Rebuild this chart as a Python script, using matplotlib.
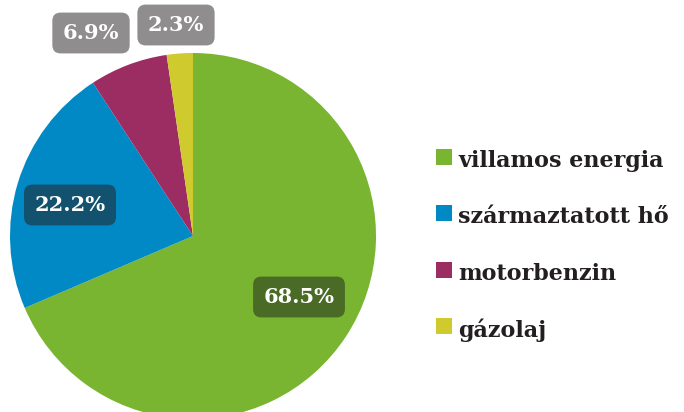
import matplotlib
matplotlib.use("Agg")
import matplotlib.pyplot as plt
from matplotlib.patches import Rectangle

categories = ["villamos energia", "származtatott hő", "motorbenzin", "gázolaj"]
values = [68.5, 22.2, 6.9, 2.3]
labels = ["68.5%", "22.2%", "6.9%", "2.3%"]
colors = ["#79b530", "#0089c4", "#9b2d62", "#cfcb2e"]
box_colors = ["#4a6b26", "#13526e", "#8f8d8e", "#8f8d8e"]

W, H = 684, 412
fig = plt.figure(figsize=(W / 100, H / 100), dpi=100)
ax = fig.add_axes([0, 0, 1, 1])

cx, cy, r = 193, H - 236, 183
ax.pie(values, colors=colors, startangle=90, counterclock=False,
       center=(cx, cy), radius=r, frame=True,
       wedgeprops=dict(linewidth=0))
ax.set_xlim(0, W)
ax.set_ylim(0, H)
ax.set_aspect("equal")
ax.axis("off")

serif = ["DejaVu Serif", "Liberation Serif"]
label_pos = [(299, 297), (70, 205), (91, 33), (176, 25)]
for lab, bc, (x, y) in zip(labels, box_colors, label_pos):
    ax.text(x, H - y, lab, color="white", fontsize=15, fontweight="bold",
            family=serif, ha="center", va="center",
            bbox=dict(boxstyle="round,pad=0.5,rounding_size=0.4",
                      fc=bc, ec="none"))

leg_y = [157, 213, 270, 326]
for cat, col, y in zip(categories, colors, leg_y):
    ax.add_patch(Rectangle((436, H - y - 8), 16, 16, fc=col, ec="none"))
    ax.text(458, H - y - 4, cat, color="#231f20", fontsize=16, fontweight="bold",
            family=serif, ha="left", va="center")

fig.savefig("out.png", dpi=100)
